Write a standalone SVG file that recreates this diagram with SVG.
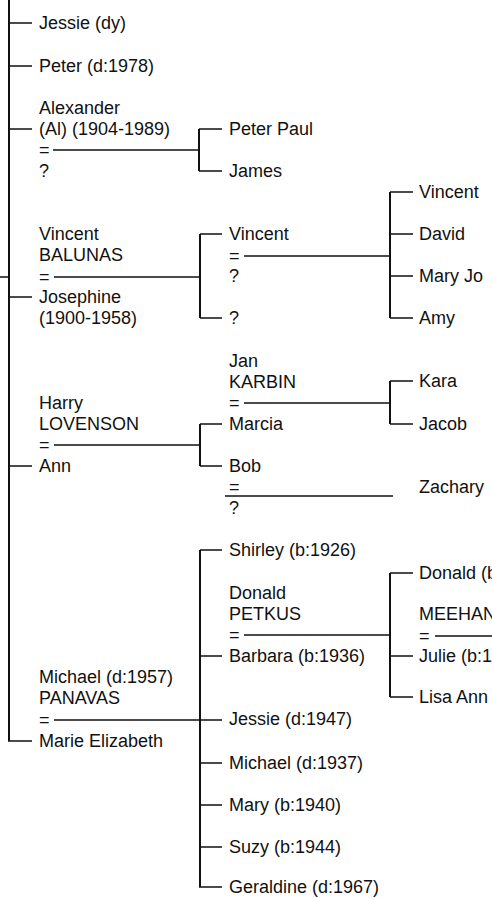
<svg xmlns="http://www.w3.org/2000/svg" width="492" height="898" viewBox="0 0 492 898">
<style>
text{font-family:"Liberation Sans",Arial,sans-serif;font-size:18px;fill:#111}
.v{stroke:#111;stroke-width:2;fill:none}
.h{stroke:#111;stroke-width:1.3;fill:none}
</style>
<rect width="492" height="898" fill="#fff"/>
<g id="connectors">
<path class="v" d="M9 0V741M199 129V171M200 234V318M390 192V318M200 424V466M390 381V424M200 550V887M390 573V697"/>
<path class="h" d="M9 23H32M9 66H32M9 129H32M9 297H32M9 466H32M8 741H32M0 277H9
M53 150H199M199 129H222M199 171H222
M54 277H200M200 234H222M200 318H222
M244 256H390M390 192H413M390 234H413M390 276H413M390 318H413
M54 445H200M200 424H222M200 466H222
M244 403H390M390 381H413M390 424H413
M225 496H393
M54 720H222M200 550H222M200 656H222M200 763H222M200 805H222M200 847H222M199 887H222
M244 635H390M390 573H413M390 656H413M390 697H413
M435 636H492"/>
</g>
<g id="jessie"><text x="39" y="29">Jessie (dy)</text></g>
<g id="peter"><text x="39" y="72">Peter (d:1978)</text></g>
<g id="alexander"><text x="39" y="114">Alexander</text><text x="39" y="135">(Al) (1904-1989)</text><text x="39" y="156">=</text><text x="39" y="177">?</text></g>
<g id="peter-paul"><text x="229" y="135">Peter Paul</text></g>
<g id="james"><text x="229" y="177">James</text></g>
<g id="josephine"><text x="39" y="240">Vincent</text><text x="39" y="261">BALUNAS</text><text x="39" y="283">=</text><text x="39" y="303">Josephine</text><text x="39" y="324">(1900-1958)</text></g>
<g id="vincent-jr"><text x="229" y="240">Vincent</text><text x="229" y="262">=</text><text x="229" y="282">?</text></g>
<g id="unknown-child"><text x="229" y="324">?</text></g>
<g id="vincent-3"><text x="419" y="198">Vincent</text></g>
<g id="david"><text x="419" y="240">David</text></g>
<g id="mary-jo"><text x="419" y="282">Mary Jo</text></g>
<g id="amy"><text x="419" y="324">Amy</text></g>
<g id="ann"><text x="39" y="409">Harry</text><text x="39" y="430">LOVENSON</text><text x="39" y="451">=</text><text x="39" y="472">Ann</text></g>
<g id="marcia"><text x="229" y="367">Jan</text><text x="229" y="388">KARBIN</text><text x="229" y="409">=</text><text x="229" y="430">Marcia</text></g>
<g id="kara"><text x="419" y="387">Kara</text></g>
<g id="jacob"><text x="419" y="430">Jacob</text></g>
<g id="bob"><text x="229" y="472">Bob</text><text x="229" y="493">=</text><text x="229" y="514">?</text></g>
<g id="zachary"><text x="419" y="493">Zachary</text></g>
<g id="marie-elizabeth"><text x="39" y="683">Michael (d:1957)</text><text x="39" y="704">PANAVAS</text><text x="39" y="726">=</text><text x="39" y="747">Marie Elizabeth</text></g>
<g id="shirley"><text x="229" y="556">Shirley (b:1926)</text></g>
<g id="barbara"><text x="229" y="599">Donald</text><text x="229" y="620">PETKUS</text><text x="229" y="641">=</text><text x="229" y="662">Barbara (b:1936)</text></g>
<g id="donald-b"><text x="419" y="579">Donald (b</text></g>
<g id="julie"><text x="419" y="620">MEEHAN</text><text x="419" y="642">=</text><text x="419" y="662">Julie (b:19</text></g>
<g id="lisa-ann"><text x="419" y="703">Lisa Ann</text></g>
<g id="jessie-1947"><text x="229" y="725">Jessie (d:1947)</text></g>
<g id="michael-1937"><text x="229" y="769">Michael (d:1937)</text></g>
<g id="mary-1940"><text x="229" y="811">Mary (b:1940)</text></g>
<g id="suzy-1944"><text x="229" y="853">Suzy (b:1944)</text></g>
<g id="geraldine-1967"><text x="229" y="893">Geraldine (d:1967)</text></g>
</svg>
